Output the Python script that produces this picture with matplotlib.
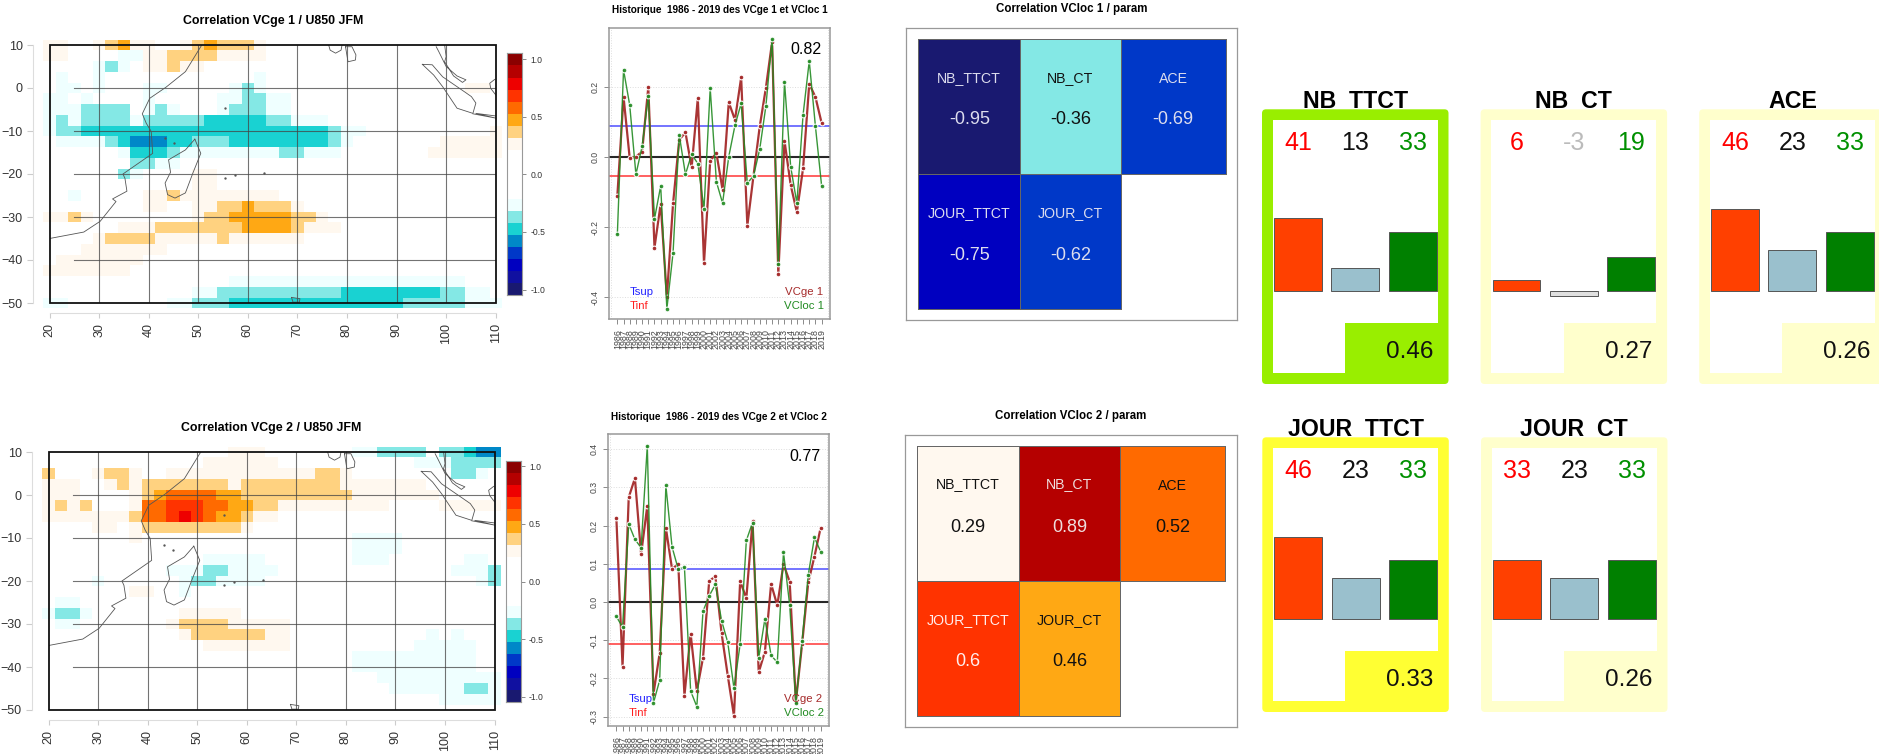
import matplotlib
matplotlib.use("Agg")
import matplotlib.pyplot as plt
import numpy as np
from matplotlib.colors import BoundaryNorm, ListedColormap
from matplotlib.patches import FancyBboxPatch, Rectangle

plt.rcParams['font.family'] = ['Liberation Sans', 'DejaVu Sans']

W, H = 1879, 754

neg_cols = ["#191970", "#1010A0", "#0000C0", "#0038C8", "#0088C8", "#19D2D2", "#84E8E5", "#EFFFFF"]
pos_cols = ["#FFF8EF", "#FFD280", "#FFA814", "#FF6A00", "#FF3300", "#EE0000", "#B50000", "#8B0000"]
bounds = [-1.0, -0.9, -0.8, -0.7, -0.6, -0.5, -0.4, -0.3, -0.2, 0.2, 0.3, 0.4, 0.5, 0.6, 0.7, 0.8, 0.9, 1.0]

lons = np.arange(20, 110.1, 2.5)
lats = np.arange(10, -50.1, -2.5)

# classes read on the map: 1-8 positive, a-h negative, . white
map1_rows = [
    "11..12311..1232221",
    "11....aa1122221111",
    "....aba.11211",
    ".a..a" + "." * 12 + "a",
    ".aa.a...aa.....aba" + "." * 16 + "11",
    "aa.a....a.....aabbaa",
    "aaabbbb.aba...abbbaa",
    "aba" + "bbbb" + "a" + "bbbbb" + "ccccc" + "bb" + "aaa",
    "abb" + "c" * 20 + "b" + "aa" + "." * 10 + "1",
    ".aaaa" + "b" + "c" + "ddd" + "cc" + "bbb" + "cccccccc" + "b" + "a" + "." * 7 + "11111",
    "......" + "a" + "ccc" + "b" + "aaaaaaaa" + "bb" + "aaa" + "." * 7 + "111111",
    ".......bbaa",
    "......ba....11",
    "............11",
    "..a.....112" + "11111111",
    "........11..11" + "22" + "3" + "222" + "1",
    "1121" + "." * 8 + "1" + "22" + "33333" + "22" + "1",
    "......" + "111" + "2222222" + "3333" + "2" + "111",
    "....1" + "2222" + "11111" + "2" + "111111",
    "...1111111",
    ".1111111",
    "1111111",
    "." * 15 + "a" * 19,
    "." * 12 + "aa" + "b" * 10 + "c" * 8 + "bb" + "aa",
    "aa........aa" + "bbb" + "c" * 14 + "bbbbb" + "aaa",
]
map2_rows = [
    "." * 15 + "111" + "." * 7 + "aa" + "bbbb" + "." + "bb" + "c" + "dd",
    "." * 13 + "111111" + "." * 11 + "aaa" + "bbbb",
    "2..." + "1" + "22" + "1" + ".." + "1" * 12 + "22" + "1" + "." * 8 + "bb" + "a",
    "111.." + "1" + "2" + "1" + "2222222" + "1" + "22222222" + "1111111",
    "111...." + "1" + "2" + "3" + "4444" + "33" + "222222222" + "1111111",
    "1212..." + "1" + "44" + "555" + "44" + "33" + "22" + "111111111" + "...." + "11111",
    "1111111" + "2" + "44" + "5" + "6" + "5" + "4" + "33" + "2" + "11",
    "....11." + "1" + "22222222" + "1",
    "......." + "1" + "." * 17 + "aaaa",
    "." * 25 + "aaaa",
    "." * 13 + "aaaaa" + "." * 7 + "aaa" + "." * 6 + "aa",
    "." * 10 + "aaa" + "bb" + "aaaa" + "." * 14 + "aaa" + "b",
    "....a" + "......" + "a" + "bb" + "aaaa" + "." * 17 + "a" + "b",
    "......." + "11" + ".." + "a",
    ".aa",
    "abba" + "......." + "11111",
    ".aa" + "......." + "1" + "2222" + "11111",
    "." * 11 + "1" + "222222" + "11" + "." * 11 + "a" + "." + "a",
    "." * 13 + "1111111" + "." * 10 + "aaaaa",
    "." * 25 + "a" * 10,
    "." * 25 + "a" * 10,
    "." * 27 + "a" * 10,
    "." * 28 + "aaaaaa" + "bb" + "a",
    "." * 32 + "aaaaa",
    "",
]

africa_lon = [20, 26.9, 30.2, 33.4, 32.7, 35.6, 35.2, 34.8, 40.8, 40.5, 39.5, 38.7, 40.2, 43.5, 47.4, 50.7]
africa_lat = [-35, -33.5, -31, -26.4, -25.8, -24, -21, -20, -15.2, -10.1, -8.2, -6, -2.4, 0.2, 3.8, 10]
madagascar_lon = [49.3, 50.5, 48.9, 47.4, 45.3, 43.8, 43.3, 44.4, 44.0, 47.4, 49.3]
madagascar_lat = [-11.9, -15.2, -19.8, -24.4, -25.6, -24.8, -22.1, -19.6, -16.7, -14.4, -11.9]
india_lon = [76.3, 76.6, 77.7, 78.8, 79]
india_lat = [10, 8.8, 8.1, 8.8, 10]
lanka_lon = [79.7, 80.2, 81.7, 81.8, 81, 79.7]
lanka_lat = [9.6, 6.1, 6.5, 7.7, 9.6, 9.6]
sumatra_lon = [95.2, 97.2, 99.3, 103.6, 105.1, 106, 105.4, 102.2, 99.3, 97.5, 95.2]
sumatra_lat = [5.5, 5.4, 2.6, -0.8, -2, -3.5, -5.9, -4.7, 0.3, 3, 5.5]
malaya_lon = [98, 98.5, 100, 102.2, 104, 103.3, 101.5, 99.7, 100, 99.7]
malaya_lat = [9.6, 8.5, 5, 2.8, 1.9, 1.3, 2.8, 6.1, 7.3, 10]
java_lon = [105.4, 110, 106, 110]
java_lat = [-6, -7, -5.9, -6.5]
borneo_lon = [110, 109, 108.8, 109.8]
borneo_lat = [-1.6, -0.1, 1.1, 2]
kerguelen_lon = [68.8, 69.1, 70.4, 70.5, 68.8]
kerguelen_lat = [-48.7, -49.8, -49.8, -49, -48.7]
islands_lon = [43.3, 45.1, 55.4, 55.4, 57.5, 63.3]
islands_lat = [-11.7, -12.8, -4.7, -21, -20.3, -19.7]

years = list(range(1986, 2020))
vcge1 = [-0.11, 0.173, -0.003, 0.002, 0.016, 0.20, -0.258, -0.133, -0.40, -0.132, 0.05, 0.071, -0.029, 0.169, -0.302,
         -0.01, 0.012, -0.093, 0.157, 0.107, 0.228, -0.195, -0.052, 0.088, 0.199, 0.33, -0.334, 0.047, -0.079, -0.157,
         -0.032, 0.21, 0.172, 0.098]
vcloc1 = [-0.22, 0.25, 0.149, -0.049, 0.031, 0.174, -0.176, -0.082, -0.433, -0.273, 0.064, -0.049, 0.009, -0.018, -0.147,
          0.197, -0.07, -0.131, 0.002, 0.091, 0.154, -0.074, -0.053, 0.023, 0.147, 0.338, -0.305, 0.216, -0.027, -0.131,
          0.121, 0.275, 0.088, -0.082]
vcge2 = [0.221, -0.169, 0.274, 0.324, 0.125, 0.252, -0.24, -0.134, 0.194, 0.086, 0.10, -0.245, -0.083, -0.233, -0.146,
         0.055, 0.067, -0.082, -0.193, -0.298, 0.054, 0.01, 0.212, -0.184, -0.13, 0.047, -0.009, 0.099, 0.053, -0.261,
         -0.111, 0.051, 0.119, 0.194]
vcloc2 = [-0.038, -0.066, 0.204, 0.164, 0.142, 0.409, -0.264, -0.205, 0.305, 0.144, 0.086, 0.091, -0.233, -0.274, -0.024,
          0.016, 0.046, -0.049, -0.106, -0.226, -0.11, 0.161, 0.208, -0.147, -0.044, -0.14, -0.158, 0.13, -0.008, -0.264,
          -0.103, 0.071, 0.169, 0.132]

param_names = ["NB_TTCT", "NB_CT", "ACE", "JOUR_TTCT", "JOUR_CT"]
param_corr1 = [-0.95, -0.36, -0.69, -0.75, -0.62]
param_corr2 = [0.29, 0.89, 0.52, 0.6, 0.46]

card_titles = ["NB  TTCT", "NB  CT", "ACE", "JOUR  TTCT", "JOUR  CT"]
card_left = [41, 6, 46, 46, 33]
card_mid = [13, -3, 23, 23, 23]
card_right = [33, 19, 33, 33, 33]
card_score = [0.46, 0.27, 0.26, 0.33, 0.26]
card_cols = ["#99EE00", "#FFFFCC", "#FFFFCC", "#FFFF33", "#FFFFCC"]

cmap = ListedColormap(neg_cols + ["white"] + pos_cols)
norm = BoundaryNorm(bounds, cmap.N)

fig = plt.figure(figsize=(W / 100, H / 100), dpi=100)


def px_axes(x0, y0, x1, y1, **kw):
    return fig.add_axes([x0 / W, 1 - y1 / H, (x1 - x0) / W, (y1 - y0) / H], **kw)


def rows_to_grid(rows):
    out = np.zeros((len(rows), len(lons)))
    for j, row in enumerate(rows):
        for i, c in enumerate(row.ljust(len(lons), ".")):
            if c.isdigit():
                out[j, i] = 0.25 + 0.1 * (int(c) - 1)
            elif c != ".":
                out[j, i] = -0.25 - 0.1 * (ord(c) - ord("a"))
    return out


def edges(v):
    step = v[1] - v[0]
    return np.append(v - step / 2, v[-1] + step / 2)


def draw_map(box, cbox, rows):
    ax = px_axes(*box)
    ax.pcolormesh(edges(lons), edges(lats), rows_to_grid(rows), cmap=cmap, norm=norm, clip_on=False, zorder=1)
    ax.set_xlim(20, 110)
    ax.set_ylim(-50, 10)
    ax.patch.set_visible(False)
    for lon in range(30, 101, 10):
        ax.plot([lon, lon], [-50, 10], color="#444444", lw=0.8, alpha=0.75, zorder=2)
    for lat in range(-40, 1, 10):
        ax.plot([25, 110], [lat, lat], color="#444444", lw=0.8, alpha=0.75, zorder=2)
    coasts = [(africa_lon, africa_lat), (madagascar_lon, madagascar_lat), (india_lon, india_lat),
              (lanka_lon, lanka_lat), (sumatra_lon, sumatra_lat), (malaya_lon, malaya_lat),
              (java_lon, java_lat), (borneo_lon, borneo_lat), (kerguelen_lon, kerguelen_lat)]
    for clon, clat in coasts:
        ax.plot(clon, clat, color="#555555", lw=0.6, zorder=3)
    ax.plot(islands_lon, islands_lat, ls="none", marker="o", ms=0.7, color="#555555", zorder=3)
    ax.add_patch(Rectangle((20, -50), 90, 60, fill=False, ec="#111111", lw=1.3, zorder=5, clip_on=False))
    for s in ["top", "right"]:
        ax.spines[s].set_visible(False)
    ax.spines["left"].set_position(("outward", 12.2))
    ax.spines["bottom"].set_position(("outward", 7.2))
    ax.spines["left"].set_color("#dddddd")
    ax.spines["bottom"].set_color("#dddddd")
    ax.set_xticks(range(20, 111, 10))
    ax.set_yticks(range(-50, 11, 10))
    ax.tick_params(axis="x", labelrotation=90, labelsize=9, labelcolor="#333333", color="#cccccc", length=3.6, pad=3.4)
    ax.tick_params(axis="y", labelsize=9, labelcolor="#333333", color="#cccccc", length=4, pad=3.2)

    cax = px_axes(*cbox)
    seg = np.linspace(-1.05, 1.05, 21)
    cols = neg_cols + ["white"] * 4 + pos_cols
    cax.barh((seg[:-1] + seg[1:]) / 2, 1, height=0.105, color=cols)
    cax.set_xlim(0, 1)
    cax.set_ylim(-1.05, 1.05)
    cax.set_xticks([])
    cax.yaxis.tick_right()
    cax.set_yticks([-1, -0.5, 0, 0.5, 1])
    cax.set_yticklabels(["-1.0", "-0.5", "0.0", "0.5", "1.0"])
    cax.tick_params(axis="y", labelsize=6.2, labelcolor="#333333", color="#777777", length=3, pad=3, width=0.6)
    for s in cax.spines.values():
        s.set_color("#999999")
        s.set_linewidth(0.8)


def draw_series(box, ylim, yticks, ylabels, red, green, tsup, tinf):
    ax = px_axes(*box)
    ax.set_xlim(1984.7, 2020.4)
    ax.set_ylim(*ylim)
    ax.grid(True, color="#dddddd", ls=":", lw=0.7)
    ax.set_axisbelow(True)
    ax.set_xticks(years)
    ax.set_xticklabels([str(y) for y in years])
    ax.set_xticks([1985, 1990, 1995, 2000, 2005, 2010, 2015, 2020], minor=True)
    ax.grid(False, axis="x")
    ax.grid(True, axis="x", which="minor", color="#dddddd", ls=":", lw=0.7)
    ax.tick_params(axis="x", which="minor", length=0)
    ax.set_yticks(yticks)
    ax.set_yticklabels(ylabels, rotation=90, va="center")
    ax.tick_params(axis="x", labelrotation=90, labelsize=6.4, labelcolor="#444444", color="#777777",
                   length=3.6, pad=3.6, width=0.6)
    ax.tick_params(axis="y", labelsize=6.2, labelcolor="#444444", color="#777777", length=3.6, pad=3.6, width=0.6)
    for s in ax.spines.values():
        s.set_color("#999999")
        s.set_linewidth(1.1)
    ax.axhline(tsup, color="#2222FF", lw=1.1, alpha=0.8)
    ax.axhline(tinf, color="#FF2020", lw=1.1, alpha=0.9)
    ax.axhline(0, color="#111111", lw=1.5, alpha=0.9)
    ax.plot(years, red, color="#A52A2A", lw=1.6, alpha=0.95, marker="o", ms=3.4, mec="white", mew=0.8)
    ax.plot(years, green, color="#228B22", lw=1.0, alpha=0.9, marker="o", ms=3.4, mec="white", mew=0.8)


def draw_param(box, xs, ys, vals):
    ax = px_axes(*box)
    ax.set_xticks([])
    ax.set_yticks([])
    ax.set_xlim(box[0], box[2])
    ax.set_ylim(box[3], box[1])
    for s in ax.spines.values():
        s.set_color("#999999")
        s.set_linewidth(0.9)
    ax.pcolormesh(xs, ys[:2], [vals[:3]], cmap=cmap, norm=norm, edgecolors="#666666", linewidth=0.5)
    ax.pcolormesh(xs[:3], ys[1:], [vals[3:]], cmap=cmap, norm=norm, edgecolors="#666666", linewidth=0.5)


bg = px_axes(0, 0, W, H, zorder=-1)
bg.set_xlim(0, W)
bg.set_ylim(H, 0)
bg.axis("off")

draw_map((49.6, 45, 495.7, 303), (506.8, 53.3, 521.8, 295.3), map1_rows)
draw_map((48.6, 452, 494.6, 710), (505.7, 460.7, 520.7, 702.3), map2_rows)

draw_series((609.3, 28.3, 830.3, 319.3), (-0.463, 0.3686), [-0.4, -0.2, 0, 0.2], ["-0.4", "-0.2", "0.0", "0.2"],
            vcge1, vcloc1, 0.088, -0.054)
draw_series((608.3, 434.3, 829.3, 726.3), (-0.3255, 0.439), [-0.3, -0.2, -0.1, 0, 0.1, 0.2, 0.3, 0.4],
            ["-0.3", "-0.2", "-0.1", "0.0", "0.1", "0.2", "0.3", "0.4"], vcge2, vcloc2, 0.087, -0.111)

draw_param((906, 28, 1237, 320), [918.3, 1020, 1121, 1225.7], [38.7, 174, 309.3], param_corr1)
draw_param((905, 435, 1236.7, 726.7), [917.3, 1018.7, 1120.3, 1224.7], [445.7, 581, 716], param_corr2)

top = px_axes(0, 0, W, H, zorder=10)
top.set_xlim(0, W)
top.set_ylim(H, 0)
top.axis("off")


def txt(x, y, s, size, color="black", ha="center", weight="normal"):
    top.text(x, y, s, fontsize=size, color=color, ha=ha, va="center", fontweight=weight)


txt(272.8, 21, "Correlation VCge 1 / U850 JFM", 8.9, weight="bold")
txt(271.4, 428, "Correlation VCge 2 / U850 JFM", 8.9, weight="bold")
txt(720, 10, "Historique  1986 - 2019 des VCge 1 et VCloc 1", 7.2, weight="bold")
txt(718.7, 416.7, "Historique  1986 - 2019 des VCge 2 et VCloc 2", 7.2, weight="bold")
txt(1072, 9.3, "Correlation VCloc 1 / param", 8.3, weight="bold")
txt(1071, 416, "Correlation VCloc 2 / param", 8.3, weight="bold")

txt(806, 50, "0.82", 11.5)
txt(805, 456.7, "0.77", 11.5)
txt(630, 292.3, "Tsup", 8.2, "#2222FF", ha="left")
txt(630, 306, "Tinf", 8.2, "#FF2020", ha="left")
txt(822.7, 292.3, "VCge 1", 8.2, "#A52A2A", ha="right")
txt(824.3, 306, "VCloc 1", 8.2, "#228B22", ha="right")
txt(629, 699, "Tsup", 8.2, "#2222FF", ha="left")
txt(629, 712.7, "Tinf", 8.2, "#FF2020", ha="left")
txt(822, 699, "VCge 2", 8.2, "#A52A2A", ha="right")
txt(824, 712.7, "VCloc 2", 8.2, "#228B22", ha="right")

heat_x = [[969.3, 1070.5, 1173.3, 969.3, 1070.5], [968, 1069.5, 1172.5, 968, 1069.5]]
heat_label_y = [[77.7, 77.7, 79.3, 213, 213], [484.3, 484.3, 486, 620, 620]]
heat_value_y = [[120, 120, 120, 255.5, 255.5], [527, 527, 527, 662, 662]]
heat_ink = [["#DDDDEE", "#111111", "#DDDDEE", "#DDDDEE", "#DDDDEE"], ["#111111", "#EEDDDD", "#111111", "#FFEEEE", "#111111"]]
for k, vals in enumerate([param_corr1, param_corr2]):
    for n, name in enumerate(param_names):
        txt(heat_x[k][n], heat_label_y[k][n], name, 10.2, heat_ink[k][n])
        txt(heat_x[k][n], heat_value_y[k][n], str(vals[n]), 13, heat_ink[k][n])

card_x = [1262, 1480.6, 1699.2, 1262.3, 1481]
card_y = [109.3, 109.3, 109.3, 437.3, 437.3]
for i, title in enumerate(card_titles):
    x0, y0, col = card_x[i], card_y[i], card_cols[i]
    r = 4
    bg.add_patch(FancyBboxPatch((x0 + r, y0 + r), 186.5 - 2 * r, 274.7 - 2 * r, boxstyle=f"round,pad={r},rounding_size={r}",
                                fc=col, ec="none", clip_on=True))
    bg.add_patch(Rectangle((x0 + 10.9, y0 + 10.7), 164.8, 253, fc="white", ec="none"))
    bg.add_patch(Rectangle((x0 + 83, y0 + 213.4), 92.7, 50.3, fc=col, ec="none"))
    txt(x0 + 93.3, y0 - 7.6, title, 16.7, weight="bold")

    bar_ax = px_axes(x0 + 10.9, y0 + 40, x0 + 175.7, y0 + 240)
    bar_ax.axis("off")
    bar_ax.set_xlim(-0.4355, 2.437)
    bar_ax.set_ylim(-58.6 / 1.77, 141.4 / 1.77)
    mid_col = "#9AC0CD" if card_mid[i] >= 0 else "#E0E0E0"
    vals = [card_left[i], card_mid[i], card_right[i]]
    bar_ax.bar([0, 1, 2], vals, width=0.836, color=["#FF4000", mid_col, "#008000"], edgecolor="#555555", linewidth=0.7)
    txt(x0 + 35.9, y0 + 33.3, str(card_left[i]), 18, "#FF0000")
    txt(x0 + 93.5, y0 + 33.3, str(card_mid[i]), 18, "#111111" if card_mid[i] >= 0 else "#BBBBBB")
    txt(x0 + 150.6, y0 + 33.3, str(card_right[i]), 18, "#009000")
    txt(x0 + 147.6, y0 + 242.5, f"{card_score[i]:.2f}", 17.5, "#111111")

fig.savefig("out.png", dpi=100)
